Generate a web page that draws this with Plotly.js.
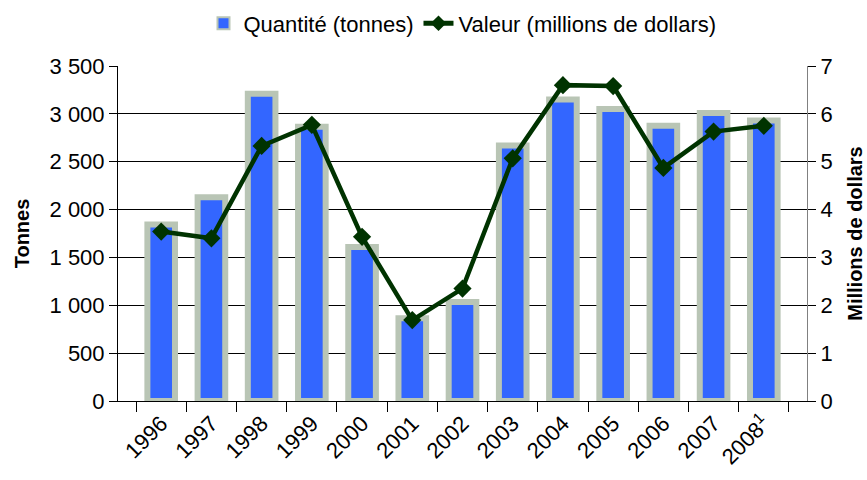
<!DOCTYPE html>
<html>
<head>
<meta charset="utf-8">
<script src="https://cdn.plot.ly/plotly-3.0.1.min.js"></script>
<style>
  html, body { margin: 0; padding: 0; background: #fff; }
  #chart { width: 867px; height: 480px; }
</style>
</head>
<body>
<div id="chart"></div>
<script>
// Années (la dernière porte un renvoi de note)
const years = ['1996', '1997', '1998', '1999', '2000', '2001', '2002',
               '2003', '2004', '2005', '2006', '2007', '2008<sup>1</sup>'];

// Quantité exportée, en tonnes
const quantityTonnes = [1845, 2130, 3210, 2865, 1610, 865, 1035,
                        2670, 3150, 3050, 2875, 3010, 2930];

// Valeur, en millions de dollars
const valueMillions = [3.54, 3.40, 5.33, 5.77, 3.43, 1.69, 2.35,
                       5.07, 6.60, 6.58, 4.87, 5.63, 5.75];

// Lignes de quadrillage horizontales (axe des tonnes)
const gridTonnes = [500, 1000, 1500, 2000, 2500, 3000];

const font = 'Liberation Sans, Arial, sans-serif';

const traces = [
  {
    type: 'bar',
    name: 'Quantité (tonnes)',
    x: years,
    y: quantityTonnes,
    yaxis: 'y',
    marker: { color: '#3366ff', line: { color: '#b9c5b5', width: 6 } },
    hoverinfo: 'skip'
  },
  {
    type: 'scatter',
    mode: 'lines+markers',
    name: 'Valeur (millions de dollars)',
    x: years,
    y: valueMillions,
    yaxis: 'y2',
    line: { color: '#003300', width: 4.5 },
    marker: { symbol: 'diamond', size: 14, color: '#003300' },
    hoverinfo: 'skip'
  }
];

const layout = {
  width: 867,
  height: 480,
  margin: { l: 118, r: 60, t: 66, b: 79 },
  paper_bgcolor: '#ffffff',
  plot_bgcolor: '#ffffff',
  separators: ', ',
  font: { family: font, size: 22, color: '#000' },
  bargap: 0.45,
  showlegend: true,
  legend: {
    orientation: 'h',
    x: 0.5, xanchor: 'center',
    yref: 'container', y: 0.995, yanchor: 'top',
    font: { family: font, size: 22, color: '#000' },
    itemsizing: 'constant'
  },
  xaxis: {
    type: 'category',
    showline: true, linecolor: '#000', linewidth: 1,
    ticks: 'outside', ticklen: 10, tickcolor: '#000',
    tickson: 'boundaries',
    tickangle: -45,
    tickfont: { family: font, size: 22 },
    showgrid: false, zeroline: false
  },
  yaxis: {
    range: [0, 3500], dtick: 500, tickformat: ',d',
    showline: true, linecolor: '#000', linewidth: 1,
    ticks: 'outside', ticklen: 8, tickcolor: '#000',
    tickfont: { family: font, size: 22 },
    showgrid: false,
    minor: { tickmode: 'array', tickvals: gridTonnes, showgrid: true,
             gridcolor: '#000', gridwidth: 1, ticks: '' },
    zeroline: false,
    title: { text: 'Tonnes', font: { family: font, size: 20, weight: 'bold' }, standoff: 14 }
  },
  yaxis2: {
    overlaying: 'y', side: 'right',
    range: [0, 7], dtick: 1,
    showline: true, linecolor: '#808080', linewidth: 1,
    ticks: 'outside', ticklen: 8, tickcolor: '#000',
    tickfont: { family: font, size: 22 },
    showgrid: false, zeroline: false,
    title: { text: 'Millions de dollars', font: { family: font, size: 20, weight: 'bold' }, standoff: 16 }
  }
};

Plotly.newPlot('chart', traces, layout, { displayModeBar: false, staticPlot: true });
</script>
</body>
</html>
